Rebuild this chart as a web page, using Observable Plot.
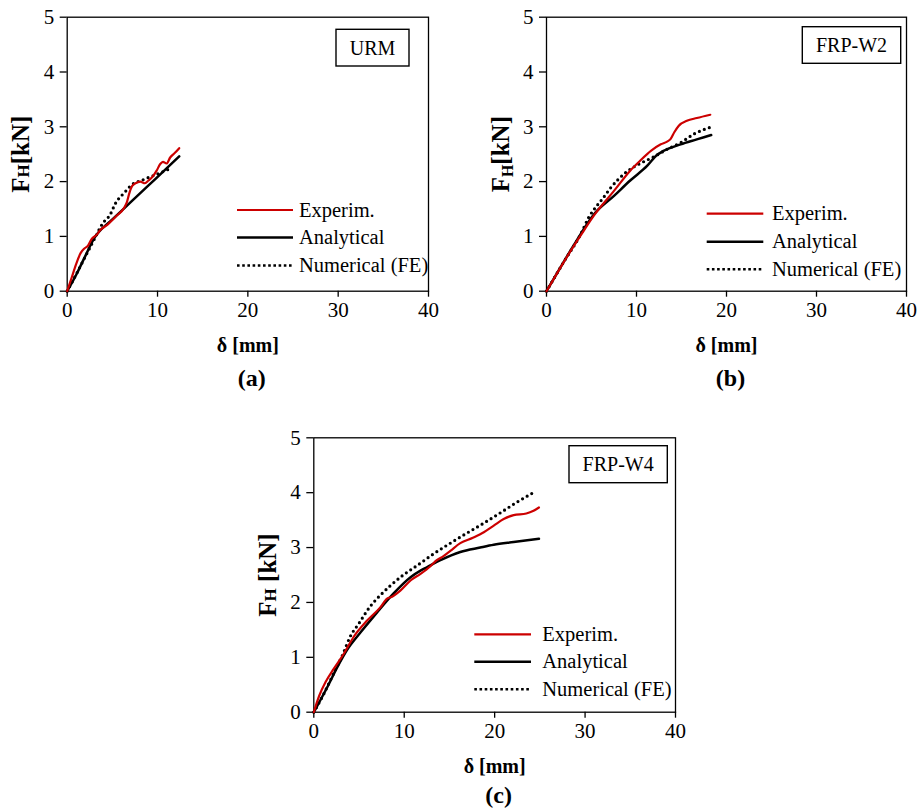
<!DOCTYPE html>
<html>
<head>
<meta charset="utf-8">
<script src="https://cdn.jsdelivr.net/npm/d3@7"></script>
<script src="https://cdn.jsdelivr.net/npm/@observablehq/plot@0.6"></script>
<style>
  html, body { margin: 0; padding: 0; background: #fff; }
  #wrap { position: relative; width: 923px; height: 809px; background: #fff; overflow: hidden; }
  #wrap svg { position: absolute; overflow: visible; }
  #wrap svg text { font-family: 'Liberation Serif', 'Times New Roman', Times, serif; }
</style>
</head>
<body>
<div id="wrap"></div>
<script>
// ---------- data ----------
const xTicks = [0, 10, 20, 30, 40];
const yTicks = [0, 1, 2, 3, 4, 5];
const seriesNames = ["Experim.", "Analytical", "Numerical (FE)"];
const panelTags = ["URM", "FRP-W2", "FRP-W4"];
const panelCaptions = ["(a)", "(b)", "(c)"];
const xLabel = "δ [mm]";

// (a) URM
const urmExpX = [0, 0.5, 1.0, 1.5, 1.9, 2.3, 2.7, 3.2, 3.7, 4.5, 5.5, 6.3, 6.6, 6.9, 7.2, 7.7, 8.1, 8.6, 9.0, 9.5, 9.9, 10.3, 10.6, 11.0, 11.4, 11.9, 12.4];
const urmExpY = [0, 0.25, 0.50, 0.70, 0.78, 0.83, 0.95, 1.02, 1.12, 1.22, 1.38, 1.52, 1.62, 1.80, 1.92, 1.98, 2.00, 1.97, 2.02, 2.10, 2.20, 2.32, 2.36, 2.33, 2.44, 2.52, 2.61];
const urmAnaX = [0, 1, 2, 3, 3.5, 5, 7, 9, 11, 12.4];
const urmAnaY = [0, 0.30, 0.64, 0.97, 1.08, 1.31, 1.62, 1.93, 2.24, 2.46];
const urmNumX = [0, 1, 2, 3, 3.9, 4.8, 5.3, 6.4, 7.0, 8.5, 10.0, 11.6];
const urmNumY = [0, 0.31, 0.63, 0.95, 1.23, 1.41, 1.59, 1.81, 1.92, 2.04, 2.14, 2.25];

// (b) FRP-W2
const w2ExpX = [0, 1, 2.7, 4, 5.4, 7.5, 9.3, 10.4, 11.6, 12.7, 13.4, 13.8, 14.2, 14.7, 15.6, 16.7, 18.2];
const w2ExpY = [0, 0.28, 0.74, 1.07, 1.41, 1.83, 2.20, 2.38, 2.56, 2.68, 2.73, 2.78, 2.90, 3.02, 3.11, 3.16, 3.22];
const w2AnaX = [0, 1.5, 3.0, 5.3, 7.5, 9.3, 11.2, 12.3, 13.0, 14.9, 16.7, 18.3];
const w2AnaY = [0, 0.42, 0.83, 1.41, 1.74, 2.02, 2.29, 2.49, 2.56, 2.68, 2.77, 2.85];
const w2NumX = [0, 1.9, 3.8, 4.7, 5.6, 6.2, 7.1, 9.0, 10.4, 11.9, 13.4, 14.9, 16.4, 18.2];
const w2NumY = [0, 0.53, 1.04, 1.35, 1.56, 1.68, 1.88, 2.19, 2.33, 2.45, 2.59, 2.71, 2.87, 2.99];

// (c) FRP-W4
const w4ExpX = [0, 0.6, 1.3, 2.2, 3.3, 4.4, 5.9, 7.35, 8.1, 8.6, 9.6, 10.7, 11.8, 12.9, 13.6, 14.3, 15.1, 16.2, 17.6, 18.8, 19.9, 21.0, 22.1, 23.5, 24.3, 24.9];
const w4ExpY = [0, 0.30, 0.55, 0.79, 1.06, 1.37, 1.67, 1.91, 2.07, 2.10, 2.22, 2.40, 2.52, 2.66, 2.77, 2.84, 2.94, 3.08, 3.18, 3.28, 3.40, 3.52, 3.59, 3.62, 3.67, 3.73];
const w4AnaX = [0, 1.5, 2.6, 3.7, 5.2, 7.0, 8.8, 10.7, 11.8, 12.5, 14.0, 16.2, 18.4, 19.9, 22.1, 24.9];
const w4AnaY = [0, 0.46, 0.82, 1.14, 1.46, 1.82, 2.16, 2.46, 2.58, 2.64, 2.77, 2.92, 3.00, 3.05, 3.10, 3.16];
const w4NumX = [0, 1, 2, 3.3, 4.0, 5.0, 6.25, 7.35, 8.5, 9.9, 11.4, 13.2, 15.1, 16.9, 18.75, 20.6, 22.4, 24.6];
const w4NumY = [0, 0.30, 0.64, 1.09, 1.37, 1.62, 1.93, 2.13, 2.31, 2.50, 2.67, 2.88, 3.08, 3.26, 3.44, 3.63, 3.82, 4.03];

// ---------- drawing ----------
const SERIF = "'Liberation Serif', 'Times New Roman', Times, serif";
const RED = "#cc0000";
const pts = (xs, ys) => xs.map((x, i) => ({x, y: ys[i]}));

const panels = [
  {left: 0, top: 0, width: 460, height: 400, mL: 66.7, mR: 32, mT: 16.7, mB: 109.3, capDy: 87,
   exp: pts(urmExpX, urmExpY), ana: pts(urmAnaX, urmAnaY), num: pts(urmNumX, urmNumY),
   tag: panelTags[0], cap: panelCaptions[0], yl: "a",
   box: [336, 29.3, 409, 66], leg: {x1: 237, x2: 293, tx: 299, ys: [210, 237.5, 265.5]}},
  {left: 460, top: 0, width: 463, height: 400, mL: 86, mR: 17, mT: 16.7, mB: 109.3, capDy: 87,
   exp: pts(w2ExpX, w2ExpY), ana: pts(w2AnaX, w2AnaY), num: pts(w2NumX, w2NumY),
   tag: panelTags[1], cap: panelCaptions[1], yl: "b",
   box: [342.3, 26.7, 440.7, 63.3], leg: {x1: 246.7, x2: 303.3, tx: 312, ys: [213.7, 241.7, 269.3]}},
  {left: 230, top: 420, width: 470, height: 389, mL: 83.3, mR: 25, mT: 17.3, mB: 97.3, capDy: 83,
   exp: pts(w4ExpX, w4ExpY), ana: pts(w4AnaX, w4AnaY), num: pts(w4NumX, w4NumY),
   tag: panelTags[2], cap: panelCaptions[2], yl: "c",
   box: [339, 25.7, 437.3, 62.7], leg: {x1: 244.3, x2: 301, tx: 312.3, ys: [214.3, 241.7, 269.3]}}
];

const wrap = document.getElementById("wrap");

panels.forEach(p => {
  const svg = Plot.plot({
    width: p.width, height: p.height,
    marginLeft: p.mL, marginRight: p.mR, marginTop: p.mT, marginBottom: p.mB,
    x: {domain: [0, 40], label: null},
    y: {domain: [0, 5], label: null},
    style: {background: "white", color: "black", overflow: "visible"},
    marks: [
      Plot.frame({stroke: "black", strokeWidth: 1.3}),
      Plot.axisX({ticks: xTicks, tickSize: 6, tickPadding: 5, fontSize: 21, label: null, tickFormat: d => String(d), strokeWidth: 1.3}),
      Plot.axisY({ticks: yTicks, tickSize: 7, tickPadding: 6, fontSize: 21, label: null, tickFormat: d => String(d), strokeWidth: 1.3}),
      Plot.line(p.num, {x: "x", y: "y", stroke: "black", strokeWidth: 3.2, strokeDasharray: "0 5.3", strokeLinecap: "round", curve: "monotone-x"}),
      Plot.line(p.ana, {x: "x", y: "y", stroke: "black", strokeWidth: 2.5, curve: "monotone-x"}),
      Plot.line(p.exp, {x: "x", y: "y", stroke: RED, strokeWidth: 2.2, curve: "monotone-x"}),
      Plot.text([xLabel], {text: d => d, frameAnchor: "bottom", dy: 54, fontWeight: "bold", fontSize: 20, lineAnchor: "middle", textAnchor: "middle"}),
      Plot.text([p.cap], {text: d => d, frameAnchor: "bottom", dy: p.capDy, dx: 4, fontWeight: "bold", fontSize: 24, lineAnchor: "middle", textAnchor: "middle"}),
      Plot.text(["YLABEL"], {text: d => d, frameAnchor: "left", dx: -46, rotate: -90, fontWeight: "bold", fontSize: 25, lineAnchor: "middle", textAnchor: "middle"})
    ]
  });
  svg.setAttribute("font-family", SERIF);
  svg.style.left = p.left + "px";
  svg.style.top = p.top + "px";
  wrap.appendChild(svg);

  const s = d3.select(svg);
  s.selectAll("text").attr("font-family", SERIF);
  // enlarge tick labels
  s.selectAll("g[aria-label$='tick label']").attr("font-size", 21).style("font-size", "21px");
  s.selectAll("g[aria-label$='tick label'] text").style("font-size", "21px");

  // y label with subscript / small H
  s.selectAll("text").filter(function() { return this.textContent === "YLABEL"; }).each(function() {
    const t = d3.select(this);
    t.text(null);
    t.append("tspan").text("F");
    if (p.yl === "b") {
      t.append("tspan").attr("font-size", 16).attr("dy", "0.25em").text("H");
      t.append("tspan").attr("dy", "-0.16em").text("[kN]");
    } else if (p.yl === "a") {
      t.append("tspan").attr("font-size", 17).text("H");
      t.append("tspan").text("[kN]");
    } else {
      t.append("tspan").attr("font-size", 17).text("H");
      t.append("tspan").text(" [kN]");
    }
  });

  // tag box
  const [bx1, by1, bx2, by2] = p.box;
  const g = s.append("g").attr("font-family", SERIF).attr("text-anchor", "start");
  g.append("rect").attr("x", bx1).attr("y", by1).attr("width", bx2 - bx1).attr("height", by2 - by1)
    .attr("fill", "white").attr("stroke", "black").attr("stroke-width", 1.4);
  g.append("text").attr("x", (bx1 + bx2) / 2).attr("y", (by1 + by2) / 2).attr("dy", "0.35em")
    .attr("text-anchor", "middle").attr("font-size", 20).attr("fill", "black").text(p.tag);

  // legend
  const styles = [
    {stroke: RED, width: 2.2, dash: null},
    {stroke: "black", width: 2.5, dash: null},
    {stroke: "black", width: 2.6, dash: "2.6 2.6"}
  ];
  seriesNames.forEach((name, i) => {
    const y = p.leg.ys[i];
    const ln = g.append("line").attr("x1", p.leg.x1).attr("x2", p.leg.x2).attr("y1", y).attr("y2", y)
      .attr("stroke", styles[i].stroke).attr("stroke-width", styles[i].width);
    if (styles[i].dash) ln.attr("stroke-dasharray", styles[i].dash);
    g.append("text").attr("x", p.leg.tx).attr("y", y).attr("dy", "0.33em")
      .attr("text-anchor", "start").attr("font-size", 20.5).attr("fill", "black").text(name);
  });
});
</script>
</body>
</html>
